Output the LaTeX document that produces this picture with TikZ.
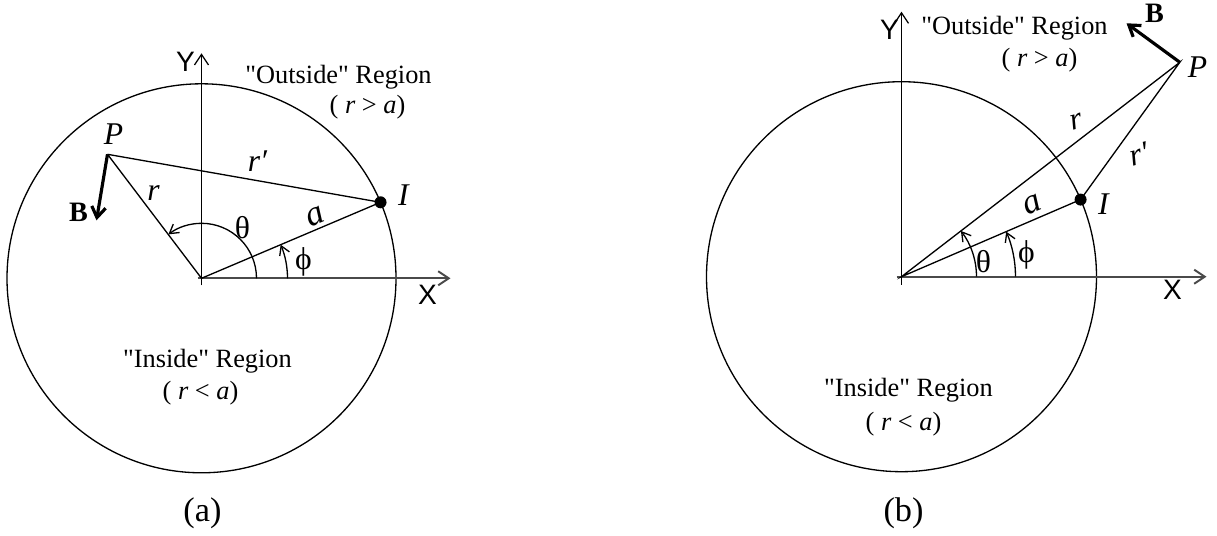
\documentclass[tikz,border=0pt]{standalone}
\usepackage{fontspec}
\setmainfont{Liberation Serif}
\newfontfamily\axisfont{Liberation Sans}
\newfontfamily\quotefont{Liberation Serif}[Ligatures=TeXOff]
\usepackage{xcolor}
\usetikzlibrary{arrows.meta}
\definecolor{Ink}{HTML}{000000}
\definecolor{AxisGray}{HTML}{4A4A4A}
\newcommand{\dq}{{\quotefont"}}
\tikzset{
  rim/.style={Ink,line width=0.75pt},
  ray/.style={Ink,line width=0.75pt},
  xaxis/.style={AxisGray,line width=1.1pt,->},
  yaxis/.style={Ink,line width=0.7pt,->},
  angarc/.style={Ink,line width=0.75pt,-{Straight Barb[length=5pt,width=6pt]}},
  bvec/.style={Ink,line width=1.8pt,-{Straight Barb[length=6pt,width=8pt]}},
  txt/.style={font=\fontsize{15}{18}\selectfont,inner sep=0pt},
  greek/.style={font=\fontsize{18}{20}\selectfont,inner sep=0pt},
  sym/.style={font=\fontsize{18}{20}\selectfont\itshape,inner sep=0pt},
  axlbl/.style={font=\fontsize{16}{18}\selectfont\axisfont,inner sep=0pt},
  subcap/.style={font=\fontsize{19.5}{22}\selectfont,inner sep=0pt}
}
\begin{document}
\begin{tikzpicture}[x=0.02cm,y=0.02cm,>={Straight Barb[length=6pt,width=8pt]}]
  \useasboundingbox (0,0) rectangle (1217,535);
  % (a) point inside the circle
  \begin{scope}[shift={(201.5,256.7)}]
    \coordinate (OA) at (0,0);
    \coordinate (PA) at (-94,124);
    \coordinate (IA) at (23:194.5);
    \coordinate (BA) at (-105,58);
    \draw[rim] (OA) circle[radius=194.5];
    \draw[xaxis] (-4,0) coordinate (XA0) -- (249,0) coordinate (XA1);
    \draw[yaxis] (0,-7) coordinate (YA0) -- (0,225) coordinate (YA1);
    \draw[ray] (PA) -- (OA) -- (IA) -- (PA);
    \fill[Ink] (IA) circle[radius=6];
    \draw[bvec] (PA) -- (BA);
    \draw[angarc] (55,0) arc[start angle=0,end angle=127,radius=55];
    \draw[angarc] (86,0) arc[start angle=0,end angle=23,radius=86];
    \node[axlbl] (YlabA) at (-16,216) {Y};
    \node[axlbl] (XlabA) at (226,-17) {X};
    \node[sym] (PlabA) at (-88,144) {P};
    \node[sym] (IlabA) at (202,83) {I};
    \node[txt,font=\fontsize{16}{18}\selectfont\bfseries] (BlabA) at (-123,66) {B};
    \node[sym] (rlabA) at (-48,85) {r};
    \node[sym] (rplabA) at (56,117) {r′};
    \node[sym,rotate=23,font=\fontsize{20}{22}\selectfont\itshape] (alabA) at (114,62) {a};
    \node[greek] (thlabA) at (41,51) {θ};
    \node[greek] (philabA) at (102,16) {ϕ};
    \node[txt] (outA) at (137,201) {\dq Outside\dq{} Region};
    \node[txt] (outcA) at (166,171) {( \textit{r} > \textit{a})};
    \node[txt] (inA) at (6,-83) {\dq Inside\dq{} Region};
    \node[txt] (incA) at (-1,-115) {( \textit{r} < \textit{a})};
    \node[subcap] (capA) at (1,-235) {(a)};
  \end{scope}
  % (b) point outside the circle
  \begin{scope}[shift={(901.5,258.3)}]
    \coordinate (OB) at (0,0);
    \coordinate (PB) at (278.3,214.4);
    \coordinate (IB) at (23.3:195);
    \coordinate (BB) at (225,253.4);
    \draw[rim] (OB) circle[radius=195];
    \draw[xaxis] (-5,0) coordinate (XB0) -- (305,0) coordinate (XB1);
    \draw[yaxis] (0,-8) coordinate (YB0) -- (0,265) coordinate (YB1);
    \draw[ray] (IB) -- (OB) -- (PB) -- (IB);
    \fill[Ink] (IB) circle[radius=6];
    \draw[bvec] (PB) -- (BB);
    \draw[angarc] (75,0) arc[start angle=0,end angle=37.6,radius=75];
    \draw[angarc] (114,0) arc[start angle=0,end angle=23.3,radius=114];
    \node[axlbl] (YlabB) at (-12,247) {Y};
    \node[axlbl] (XlabB) at (271,-13) {X};
    \node[sym] (PlabB) at (296,210) {P};
    \node[sym] (IlabB) at (202,73) {I};
    \node[txt,font=\fontsize{16}{18}\selectfont\bfseries] (BlabB) at (253,263) {B};
    \node[sym,rotate=15] (rlabB) at (175,155) {r};
    \node[sym,rotate=15] (rplabB) at (238,123) {r′};
    \node[sym,rotate=23,font=\fontsize{20}{22}\selectfont\itshape] (alabB) at (131,72) {a};
    \node[greek] (thlabB) at (82,15) {θ};
    \node[greek] (philabB) at (125,22) {ϕ};
    \node[txt] (outB) at (113,248) {\dq Outside\dq{} Region};
    \node[txt] (outcB) at (138,217) {( \textit{r} > \textit{a})};
    \node[txt] (inB) at (7,-113) {\dq Inside\dq{} Region};
    \node[txt] (incB) at (2,-147) {( \textit{r} < \textit{a})};
    \node[subcap] (capB) at (2,-237) {(b)};
  \end{scope}
\end{tikzpicture}
\end{document}
